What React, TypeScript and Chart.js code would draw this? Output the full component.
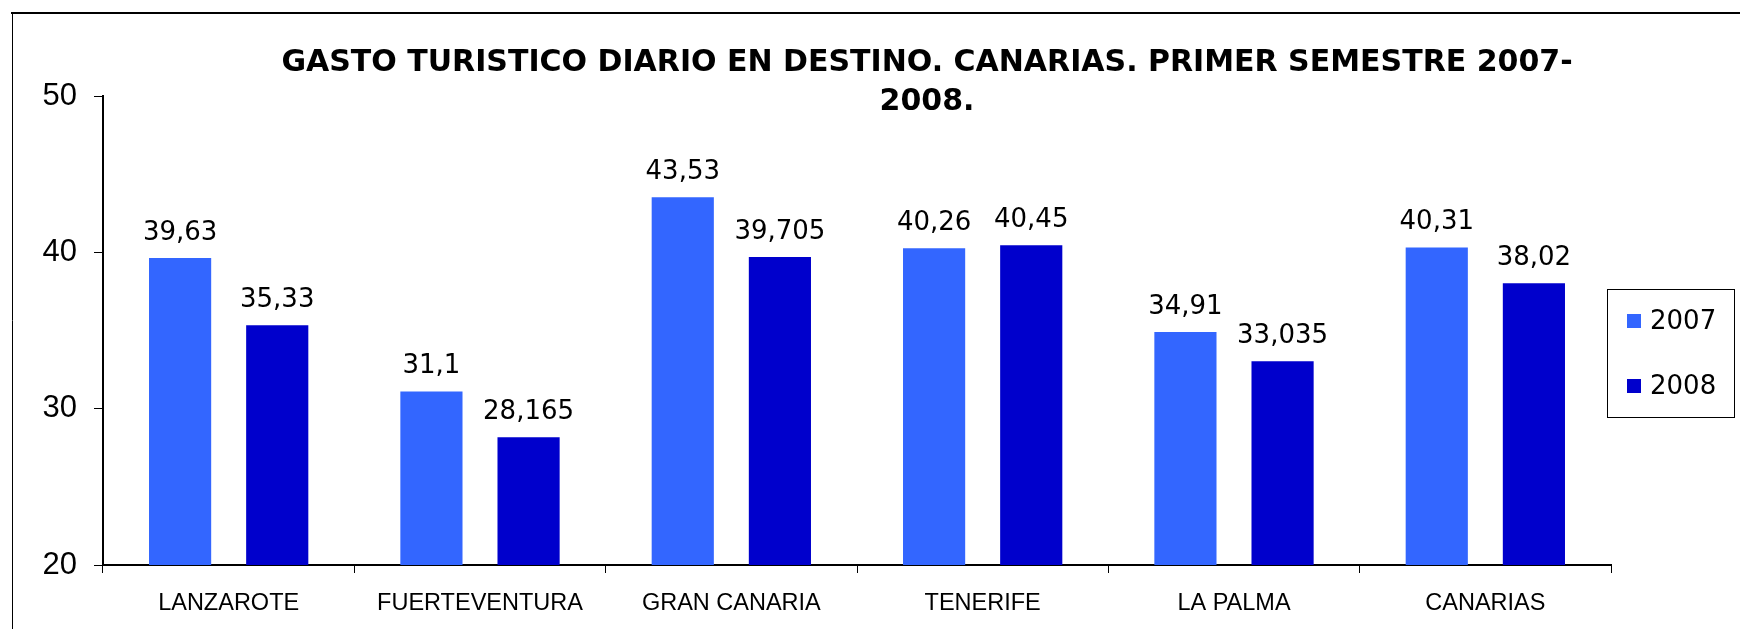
import React, { useEffect, useRef } from 'react';
import { Chart, registerables } from 'chart.js';

Chart.register(...registerables);

const categories = ['LANZAROTE', 'FUERTEVENTURA', 'GRAN CANARIA', 'TENERIFE', 'LA PALMA', 'CANARIAS'];
const seriesNames = ['2007', '2008'];
const values2007 = [39.63, 31.1, 43.53, 40.26, 34.91, 40.31];
const values2008 = [35.33, 28.165, 39.705, 40.45, 33.035, 38.02];
const seriesColors = ['#3366FF', '#0000CC'];
const titleLines = ['GASTO TURISTICO DIARIO EN DESTINO. CANARIAS. PRIMER SEMESTRE 2007-', '2008.'];
const yMin = 20;
const yMax = 50;
const yStep = 10;

const fmt = (v: number) => String(v).replace('.', ',');

const decorPlugin = {
  id: 'decor',
  afterDraw(chart: any) {
    const ctx = chart.ctx as CanvasRenderingContext2D;
    ctx.save();
    // outer frame
    ctx.strokeStyle = '#000';
    ctx.lineWidth = 2;
    ctx.beginPath();
    ctx.moveTo(11, 13);
    ctx.lineTo(1740, 13);
    ctx.stroke();
    ctx.lineWidth = 1;
    ctx.beginPath();
    ctx.moveTo(12.5, 12);
    ctx.lineTo(12.5, 629);
    ctx.stroke();

    // title
    ctx.fillStyle = '#000';
    ctx.font = 'bold 30px "DejaVu Sans"';
    ctx.textAlign = 'center';
    ctx.textBaseline = 'middle';
    titleLines.forEach((t, i) => ctx.fillText(t, 927, 63 + i * 39));

    // value labels
    ctx.font = '26px "DejaVu Sans"';
    ctx.textBaseline = 'alphabetic';
    chart.data.datasets.forEach((ds: any, di: number) => {
      const meta = chart.getDatasetMeta(di);
      meta.data.forEach((el: any, i: number) => {
        ctx.fillText(fmt(ds.data[i]), el.x, el.y - 18);
      });
    });

    // legend
    ctx.lineWidth = 1;
    ctx.strokeRect(1607.5, 289.5, 127, 128);
    ctx.textAlign = 'left';
    ctx.textBaseline = 'middle';
    chart.data.datasets.forEach((ds: any, di: number) => {
      const cy = 321 + di * 65;
      ctx.fillStyle = ds.backgroundColor;
      ctx.fillRect(1627, cy - 7, 14, 14);
      ctx.fillStyle = '#000';
      ctx.fillText(ds.label, 1650, cy + 1);
    });
    ctx.restore();
  },
};

export default function App() {
  const ref = useRef<HTMLCanvasElement | null>(null);
  useEffect(() => {
    if (!ref.current) return;
    const chart = new Chart(ref.current, {
      type: 'bar',
      data: {
        labels: categories,
        datasets: [values2007, values2008].map((vals, i) => ({
          label: seriesNames[i],
          data: vals,
          backgroundColor: seriesColors[i],
          categoryPercentage: 0.773,
          barPercentage: 0.64,
        })),
      },
      options: {
        responsive: false,
        animation: false,
        devicePixelRatio: 1,
        layout: { padding: { top: 96, right: 129, bottom: 0, left: 0 } },
        plugins: {
          legend: { display: false },
          title: { display: false },
          tooltip: { enabled: false },
        },
        scales: {
          x: {
            grid: { display: true, drawOnChartArea: false, drawTicks: true, tickLength: 8, color: '#000', lineWidth: 1, offset: true },
            border: { display: true, color: '#000', width: 2 },
            ticks: {
              color: '#000',
              font: { family: '"Liberation Sans", Arial', size: 23.5 },
              padding: 16,
              maxRotation: 0,
              autoSkip: false,
            },
            afterFit: (s: any) => { s.height = 64; },
          },
          y: {
            min: yMin,
            max: yMax,
            ticks: {
              stepSize: yStep,
              color: '#000',
              font: { family: '"Liberation Sans", Arial', size: 31 },
              padding: 17,
            },
            grid: { drawOnChartArea: false, drawTicks: true, tickLength: 9, color: '#000', lineWidth: 1 },
            border: { display: true, color: '#000', width: 2 },
            afterFit: (s: any) => { s.width = 103; },
          },
        },
      },
      plugins: [decorPlugin],
    } as any);
    return () => chart.destroy();
  }, []);
  return (
    <div style={{ position: 'absolute', left: 0, top: 0, width: 1740, height: 629, background: '#fff' }}>
      <canvas ref={ref} width={1740} height={629} style={{ display: 'block' }} />
    </div>
  );
}
